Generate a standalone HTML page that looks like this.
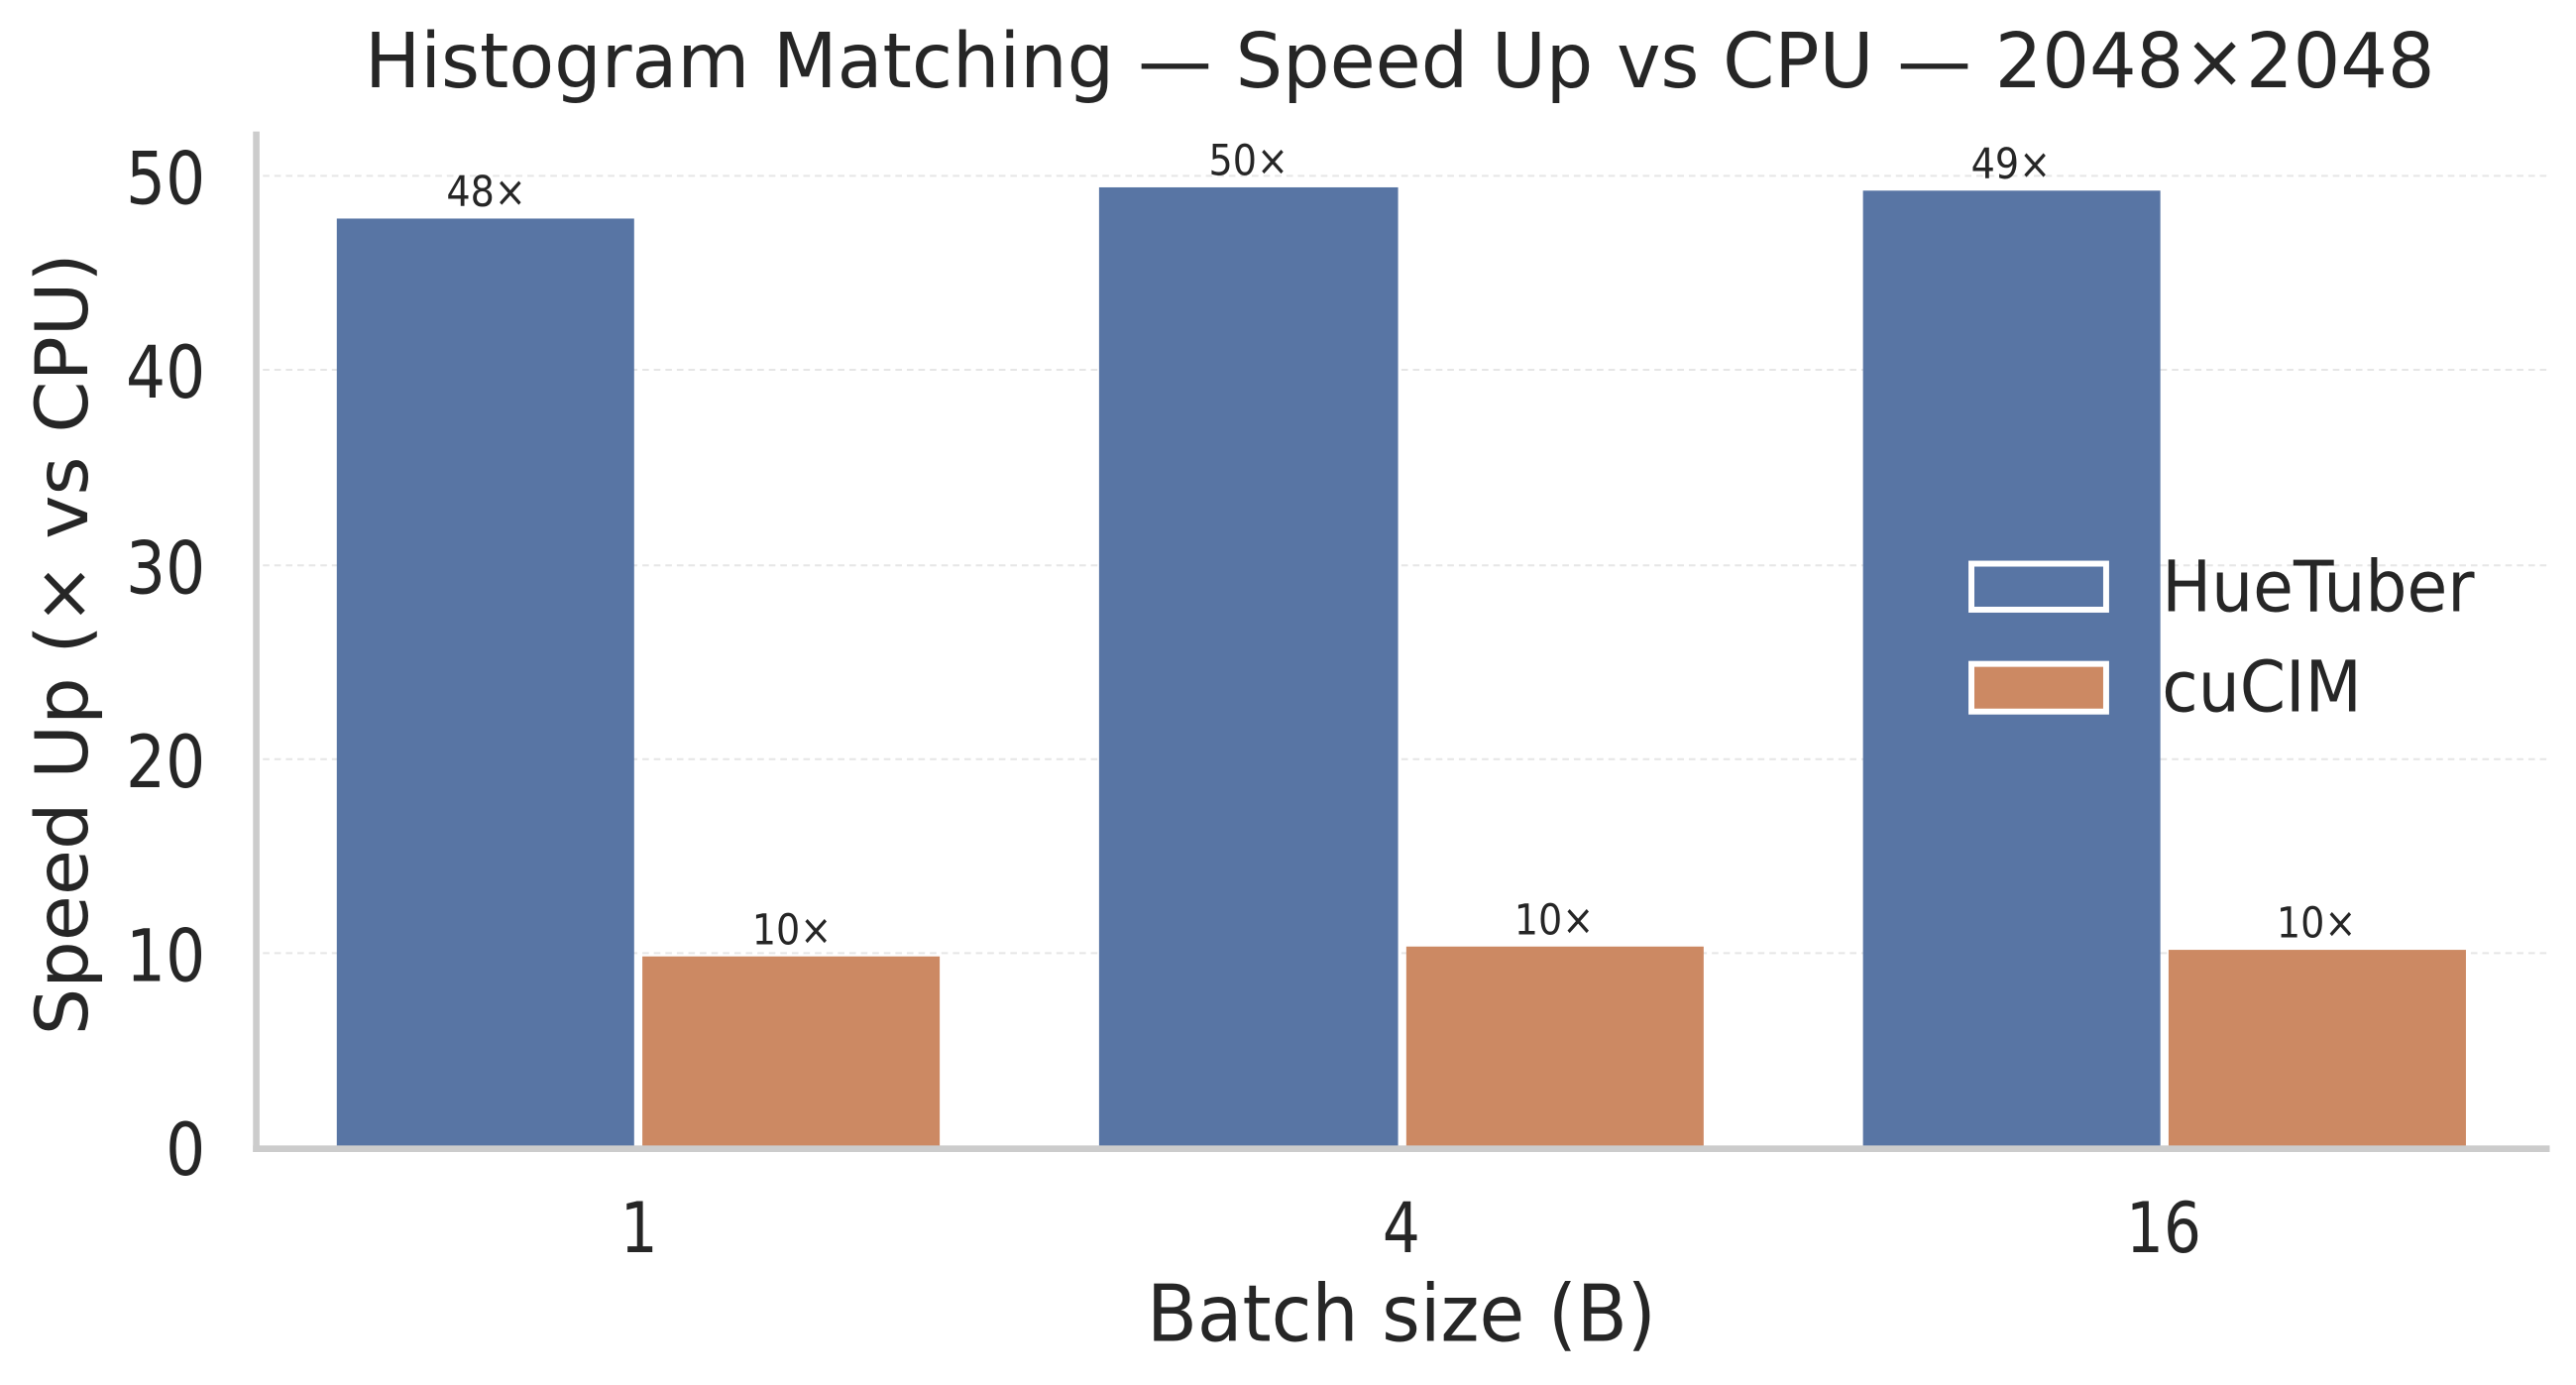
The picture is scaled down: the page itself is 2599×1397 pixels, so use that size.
<!DOCTYPE html>
<html><head><meta charset="utf-8"><style>
html,body{margin:0;padding:0;background:#fff;}
svg{display:block;}
text{font-family:"DejaVu Sans","Liberation Sans",sans-serif;fill:#262626;}
</style></head><body>
<svg width="2599" height="1397" viewBox="0 0 1568 842.8" preserveAspectRatio="none" xmlns="http://www.w3.org/2000/svg">
<rect x="0" y="0" width="1568" height="843" fill="#fff"/>
<g stroke="#e6e6e6" stroke-width="1.2" stroke-dasharray="4,3">
<line x1="160" y1="107" x2="1550" y2="107"/>
<line x1="160" y1="225" x2="1550" y2="225"/>
<line x1="160" y1="344" x2="1550" y2="344"/>
<line x1="160" y1="462" x2="1550" y2="462"/>
<line x1="160" y1="580" x2="1550" y2="580"/>
</g>
<g fill="#5875a4">
<rect x="205" y="133" width="181" height="565"/>
<rect x="669" y="114" width="182" height="584"/>
<rect x="1134" y="116" width="181" height="582"/>
</g>
<g fill="#cc8963">
<rect x="391" y="582" width="181" height="116"/>
<rect x="856" y="576" width="181" height="122"/>
<rect x="1320" y="578" width="181" height="120"/>
</g>
<line x1="156" y1="80" x2="156" y2="701" stroke="#cccccc" stroke-width="4"/>
<line x1="154" y1="699" x2="1552" y2="699" stroke="#cccccc" stroke-width="4"/>
<g transform="translate(852,53) scale(1,1.18)"><text x="0" y="0" font-size="39" text-anchor="middle" textLength="1260" lengthAdjust="spacingAndGlyphs">Histogram Matching — Speed Up vs CPU — 2048×2048</text></g>
<g font-size="38" text-anchor="end">
<text transform="translate(125,124) scale(1,1.16)">50</text>
<text transform="translate(125,242) scale(1,1.16)">40</text>
<text transform="translate(125,361) scale(1,1.16)">30</text>
<text transform="translate(125,479) scale(1,1.16)">20</text>
<text transform="translate(125,597) scale(1,1.16)">10</text>
<text transform="translate(125,715) scale(1,1.16)">0</text>
</g>
<text transform="translate(53,392) rotate(-90)" font-size="44" text-anchor="middle" textLength="476" lengthAdjust="spacingAndGlyphs">Speed Up (× vs CPU)</text>
<g font-size="36" text-anchor="middle">
<text transform="translate(389,762) scale(1,1.18)">1</text>
<text transform="translate(853,762) scale(1,1.18)">4</text>
<text transform="translate(1317,762) scale(1,1.18)">16</text>
</g>
<g transform="translate(853,816) scale(1,1.2)"><text x="0" y="0" font-size="40" text-anchor="middle" textLength="310" lengthAdjust="spacingAndGlyphs">Batch size (B)</text></g>
<g font-size="23" text-anchor="middle">
<text transform="translate(296,125.5) scale(1,1.12)">48×</text>
<text transform="translate(482,574.5) scale(1,1.12)">10×</text>
<text transform="translate(760,106.5) scale(1,1.12)">50×</text>
<text transform="translate(946,568.5) scale(1,1.12)">10×</text>
<text transform="translate(1224,108.5) scale(1,1.12)">49×</text>
<text transform="translate(1410,570.5) scale(1,1.12)">10×</text>
</g>
<rect x="1200" y="343" width="82" height="28" fill="#5875a4" stroke="#fff" stroke-width="3.6"/>
<rect x="1200" y="404" width="82" height="29" fill="#cc8963" stroke="#fff" stroke-width="3.6"/>
<text transform="translate(1316,372) scale(1,1.07)" font-size="40">HueTuber</text>
<text transform="translate(1316,433) scale(1,1.07)" font-size="40">cuCIM</text>
</svg>
</body></html>
